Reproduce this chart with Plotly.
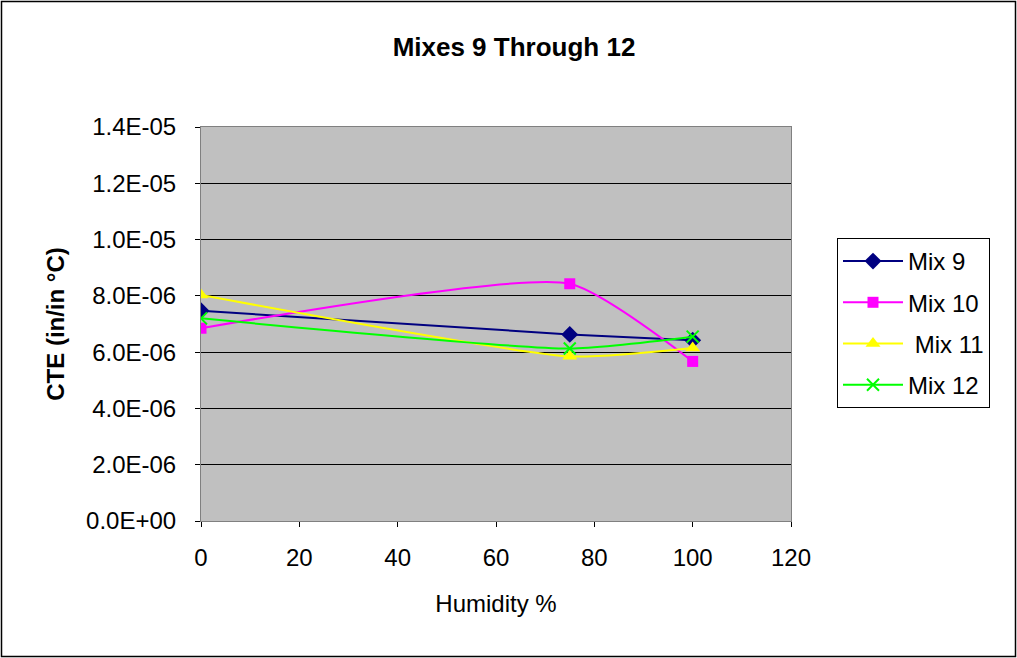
import plotly.graph_objects as go

humidity = [0, 75, 100]
mix9 = [7.47e-6, 6.63e-6, 6.42e-6]
mix10 = [6.85e-6, 8.43e-6, 5.67e-6]
mix11 = [8.03e-6, 5.85e-6, 6.15e-6]
mix12 = [7.2e-6, 6.13e-6, 6.55e-6]

series = [
    ("Mix 9", mix9, "#000080", "diamond", 13),
    ("Mix 10", mix10, "#FF00FF", "square", 11),
    ("&nbsp;Mix 11", mix11, "#FFFF00", "triangle-up", 13),
    ("Mix 12", mix12, "#00FF00", "x-thin-open", 12),
]

y_ticks = [0, 2e-6, 4e-6, 6e-6, 8e-6, 1e-5, 1.2e-5, 1.4e-5]
y_labels = ["0.0E+00", "2.0E-06", "4.0E-06", "6.0E-06", "8.0E-06", "1.0E-05", "1.2E-05", "1.4E-05"]
x_ticks = [0, 20, 40, 60, 80, 100, 120]

fig = go.Figure()
for i, (name, vals, color, sym, size) in enumerate(series):
    marker = dict(symbol=sym, size=size, color=color)
    if sym == "x-thin-open":
        marker["line"] = dict(color=color, width=2)
    fig.add_trace(go.Scatter(
        x=humidity, y=vals, name=name, mode="lines+markers",
        line=dict(color=color, width=2, shape="spline", smoothing=0.55),
        marker=marker, legendgroup=f"g{i}",
    ))

W, H = 1017, 658
L, R, T, B = 201, 226, 127, 137
pw, ph = W - L - R, H - T - B

fig.update_layout(
    width=W, height=H,
    margin=dict(l=L, r=R, t=T, b=B),
    paper_bgcolor="white",
    plot_bgcolor="#C0C0C0",
    font=dict(family="Arial, Liberation Sans, sans-serif", color="black", size=24),
    title=dict(text="<b>Mixes 9 Through 12</b>", x=514 / W, xanchor="center",
               y=1 - 47 / H, yanchor="middle", font=dict(size=26)),
    xaxis=dict(range=[0, 120], tickvals=x_ticks, showgrid=False, zeroline=False,
               showline=True, linecolor="#808080", linewidth=1, mirror=True,
               ticks="outside", ticklen=5, tickcolor="black", ticklabelstandoff=10,
               tickfont=dict(size=24),
               title=dict(text="Humidity %", standoff=25, font=dict(size=24))),
    yaxis=dict(range=[0, 1.4e-5], tickvals=y_ticks, ticktext=y_labels,
               showgrid=True, gridcolor="black", gridwidth=1, zeroline=False,
               showline=True, linecolor="#808080", linewidth=1, mirror=True,
               ticks="outside", ticklen=5, tickcolor="black", ticklabelstandoff=14,
               tickfont=dict(size=24),
               title=dict(text="<b>CTE (in/in °C)</b>", standoff=14, font=dict(size=24))),
    legend=dict(x=(837 - L) / pw, y=(T + ph - 238) / ph, xanchor="left", yanchor="top",
                bordercolor="black", borderwidth=1, bgcolor="white",
                font=dict(size=24), tracegroupgap=7, itemwidth=60),
    showlegend=True,
)

# outer border around whole chart
fig.add_shape(type="rect", xref="paper", yref="paper",
              x0=(1.5 - L) / pw, x1=(W - 1.5 - L) / pw,
              y0=(T + ph - (H - 1.5)) / ph, y1=(T + ph - 1.5) / ph,
              line=dict(color="black", width=1.5), fillcolor="rgba(0,0,0,0)", layer="below")

fig.write_html("out.html")
